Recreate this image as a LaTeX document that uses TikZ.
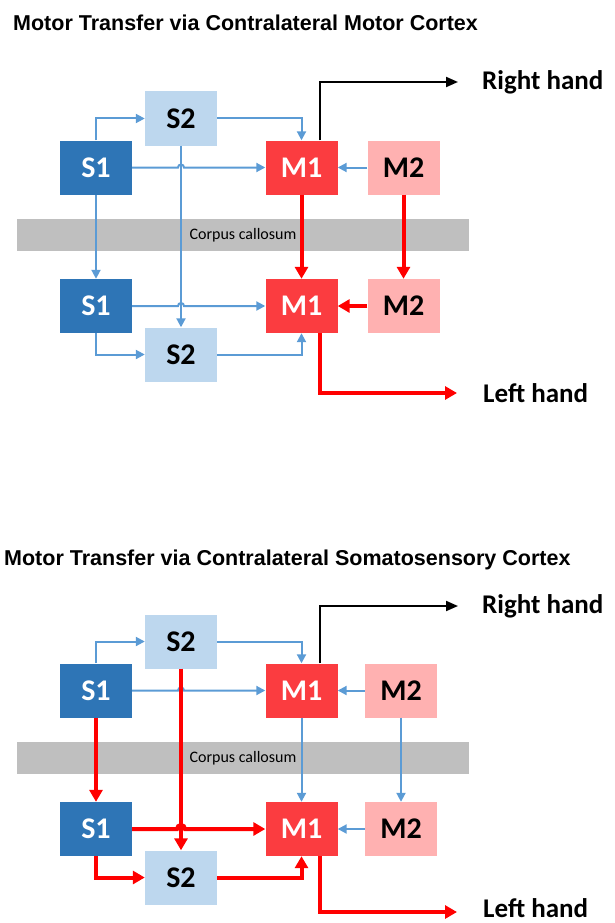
\documentclass[tikz,border=0pt]{standalone}
\usepackage{fontspec}
\setmainfont{Carlito}
\newfontfamily\titlefont{Liberation Sans}
\usepackage{xcolor}
\usetikzlibrary{arrows.meta, positioning, calc}

\definecolor{sonefill}{HTML}{2E75B6}
\definecolor{stwofill}{HTML}{BDD7EE}
\definecolor{monefill}{HTML}{FB3C40}
\definecolor{mtwofill}{HTML}{FFB1B1}
\definecolor{linkblue}{HTML}{5B9BD5}
\definecolor{ccgray}{HTML}{BFBFBF}

\begin{document}
\begin{tikzpicture}[
  x=1pt, y=-1pt,
  area/.style={rectangle, minimum width=72pt, minimum height=54pt, inner sep=0pt,
               font=\fontsize{30}{30}\selectfont\bfseries},
  sone/.style={area, fill=sonefill, text=white},
  stwo/.style={area, fill=stwofill},
  mone/.style={area, fill=monefill, text=white},
  mtwo/.style={area, fill=mtwofill},
  bar/.style={rectangle, fill=ccgray, minimum width=452pt, minimum height=32pt,
              inner sep=0pt, font=\fontsize{16}{16}\selectfont},
  hand/.style={inner sep=0pt, font=\fontsize{27}{27}\selectfont\bfseries},
  heading/.style={anchor=base west, inner sep=0pt,
                  font=\titlefont\fontsize{21.5}{21.5}\selectfont\bfseries},
  bluearr/.style={linkblue, line width=2pt, -{Triangle[length=9pt, width=9pt]}},
  redarr/.style={red, line width=4pt, -{Triangle[length=12pt, width=13pt]}},
  handarr/.style={black, line width=2pt, -{Triangle[length=12pt, width=10pt]}},
]
\useasboundingbox (0,0) rectangle (614,923);

\node[heading] (mc-title) at (13,31) {Motor Transfer via Contralateral Motor Cortex};
\node[heading] (sc-title) at (4,565) {Motor Transfer via Contralateral Somatosensory Cortex};

% motor cortex route
\begin{scope}
\node[bar] (mc-cc) at (243,235) {Corpus callosum};
\node[stwo] (mc-s2u) at (181,118.5) {S2};
\node[sone] (mc-s1u) at (96,167.5) {S1};
\node[mone] (mc-m1u) at (301.5,167.5) {M1};
\node[mtwo] (mc-m2u) at (403.5,167.5) {M2};
\node[sone] (mc-s1l) at (96,306) {S1};
\node[stwo] (mc-s2l) at (181,354.5) {S2};
\node[mone] (mc-m1l) at (301.5,306) {M1};
\node[mtwo] (mc-m2l) at (403.5,306) {M2};
\coordinate (mc-rh) at (458,82);
\coordinate (mc-lh) at (457,393);
\node[hand, right=24pt of mc-rh] (mc-rhtext) {Right hand};
\node[hand, right=26pt of mc-lh] (mc-lhtext) {Left hand};

\draw[bluearr] (mc-s1u.north) |- (mc-s2u.west);
\draw[bluearr] (mc-s2u.east) -| (mc-m1u.north);
\draw[bluearr] (mc-s1u.east) -- ($(mc-s2u.south |- mc-s1u.east)-(3pt,0)$)
  arc[start angle=180, end angle=0, radius=3pt] -- (mc-m1u.west);
\draw[bluearr] (mc-s2u.south) -- (mc-s2l.north);
\draw[bluearr] (mc-s1u.south) -- (mc-s1l.north);
\draw[bluearr] (mc-m2u.west) -- (mc-m1u.east);
\draw[bluearr] (mc-s1l.east) -- ($(mc-s2l.north |- mc-s1l.east)-(3pt,0)$)
  arc[start angle=180, end angle=0, radius=3pt] -- (mc-m1l.west);
\draw[bluearr] (mc-s1l.south) |- (mc-s2l.west);
\draw[bluearr] (mc-s2l.east) -| (mc-m1l.south);
\draw[redarr] (mc-m1u.south) -- (mc-m1l.north);
\draw[redarr] (mc-m2u.south) -- (mc-m2l.north);
\draw[redarr] (mc-m2l.west) -- (mc-m1l.east);
\draw[redarr] ([xshift=18pt]mc-m1l.south) |- (mc-lh);
\draw[handarr] ([xshift=18pt]mc-m1u.north) |- (mc-rh);
\end{scope}

% somatosensory cortex route
\begin{scope}[shift={(0,523)}]
\node[bar] (sc-cc) at (243,235) {Corpus callosum};
\node[stwo] (sc-s2u) at (181,118.5) {S2};
\node[sone] (sc-s1u) at (96,167.5) {S1};
\node[mone] (sc-m1u) at (301.5,167.5) {M1};
\node[mtwo] (sc-m2u) at (401,167.5) {M2};
\node[sone] (sc-s1l) at (96,306) {S1};
\node[stwo] (sc-s2l) at (181,354.5) {S2};
\node[mone] (sc-m1l) at (301.5,306) {M1};
\node[mtwo] (sc-m2l) at (401,306) {M2};
\coordinate (sc-rh) at (458,83);
\coordinate (sc-lh) at (457,389);
\node[hand, right=24pt of sc-rh] (sc-rhtext) {Right hand};
\node[hand, right=26pt of sc-lh, yshift=4pt] (sc-lhtext) {Left hand};

\draw[bluearr] (sc-s1u.north) |- (sc-s2u.west);
\draw[bluearr] (sc-s2u.east) -| (sc-m1u.north);
\draw[bluearr] (sc-s1u.east) -- ($(sc-s2u.south |- sc-s1u.east)-(3pt,0)$)
  arc[start angle=180, end angle=0, radius=3pt] -- (sc-m1u.west);
\draw[bluearr] (sc-m2u.west) -- (sc-m1u.east);
\draw[bluearr] (sc-m1u.south) -- (sc-m1l.north);
\draw[bluearr] (sc-m2u.south) -- (sc-m2l.north);
\draw[bluearr] (sc-m2l.west) -- (sc-m1l.east);
\draw[redarr] (sc-s2u.south) -- (sc-s2l.north);
\draw[redarr] (sc-s1u.south) -- (sc-s1l.north);
\draw[redarr] (sc-s1l.east) -- ($(sc-s2l.north |- sc-s1l.east)-(4pt,0)$)
  arc[start angle=180, end angle=0, radius=4pt] -- (sc-m1l.west);
\draw[redarr] (sc-s1l.south) |- (sc-s2l.west);
\draw[redarr] (sc-s2l.east) -| (sc-m1l.south);
\draw[redarr] ([xshift=18pt]sc-m1l.south) |- (sc-lh);
\draw[handarr] ([xshift=18pt]sc-m1u.north) |- (sc-rh);
\end{scope}
\end{tikzpicture}
\end{document}
